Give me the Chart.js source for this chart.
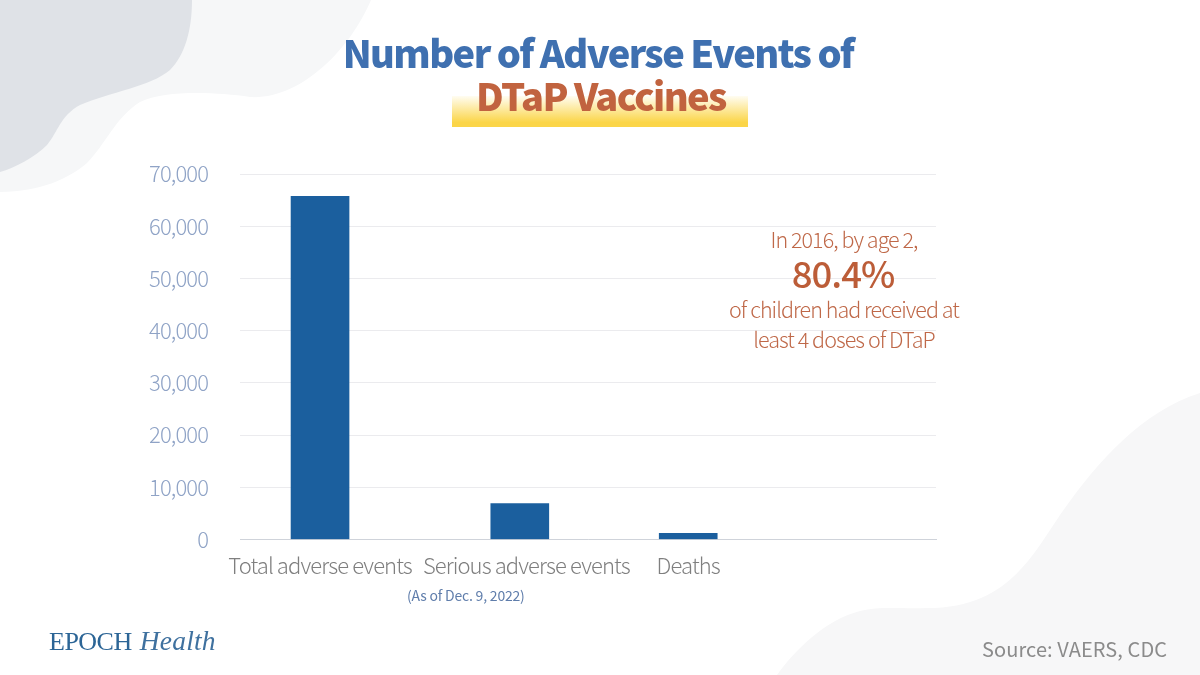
<!DOCTYPE html>
<html>
<head>
<meta charset="utf-8">
<title>Number of Adverse Events of DTaP Vaccines</title>
<script src="https://cdn.jsdelivr.net/npm/chart.js@4/dist/chart.umd.min.js"></script>
<style>
    html, body { margin: 0; padding: 0; background: #fff; }
    #stage { position: relative; width: 1200px; height: 675px; overflow: hidden; background: #fff; font-family: "Noto Sans CJK SC", "Noto Sans", sans-serif; }
    #stage > * { position: absolute; }
    #blobs { left: 0; top: 0; }
    #adverseChart { left: 0; top: 0; }
    .center { text-align: center; white-space: nowrap; }
    #titleTop { left: 0; width: 1196px; top: 25px; font-size: 38px; font-weight: 900; line-height: 54px; letter-spacing: -1.6px; color: #3f70b0; }
    #highlight { left: 452px; top: 96px; width: 296px; height: 31px; background: linear-gradient(#fffdf2, #fbd548 85%, #fbd548); }
    #titleBottom { left: 0; width: 1202px; top: 68px; font-size: 38px; font-weight: 900; line-height: 54px; letter-spacing: -1.6px; color: #c1633f; }
    .note { left: 694px; width: 300px; color: #bf6848; font-size: 21.5px; line-height: 30px; font-weight: 300; letter-spacing: -0.95px; }
    #noteBig { left: 693px; color: #bc5d38; font-size: 36.5px; line-height: 44px; font-weight: 500; letter-spacing: -1px; }
    #asOf { left: 407px; top: 586px; font-size: 14px; line-height: 18px; color: #5f7dab; letter-spacing: -0.2px; white-space: nowrap; }
    #source { left: 982px; top: 634px; font-size: 20px; line-height: 30px; color: #8b8b8b; letter-spacing: 0.1px; white-space: nowrap; }
    #logo { left: 49px; top: 624px; font-size: 26px; line-height: 34px; color: #2c6596; letter-spacing: -0.5px; white-space: nowrap; font-family: "Liberation Serif", serif; }
    #logo i { margin-left: 2px; font-size: 27.5px; letter-spacing: 0.2px; color: #3f719f; }
</style>
</head>
<body>
<div id="stage">
    <svg id="blobs" width="1200" height="675">
        <path fill="#f6f7f8" d="M0 192 C40 192 70 178 87 163 C105 145 115 118 140 102 C165 90 215 92 250 97 C300 100 350 50 371 0 L0 0 Z"/>
        <path fill="#dfe2e7" d="M192 0 C192 30 185 55 170 70 C150 87 110 92 80 105 C60 116 58 132 47 145 C35 157 15 168 0 172 L0 0 Z"/>
        <path fill="#f7f7f8" d="M1200 393 C1140 412 1095 465 1060 515 C1030 560 1005 608 927 608 C900 609 880 606 860 611 C825 620 795 650 777 675 L1200 675 Z"/>
    </svg>
    <canvas id="adverseChart" width="1200" height="675"></canvas>
    <div id="titleTop" class="center">Number of Adverse Events of</div>
    <div id="highlight"></div>
    <div id="titleBottom" class="center">DTaP Vaccines</div>
    <div class="note center" style="top:224px">In 2016, by age 2,</div>
    <div id="noteBig" class="note center" style="top:251px">80.4%</div>
    <div class="note center" style="top:294px">of children had received at</div>
    <div class="note center" style="top:324px">least 4 doses of DTaP</div>
    <div id="asOf">(As of Dec. 9, 2022)</div>
    <div id="logo">EPOCH <i>Health</i></div>
    <div id="source">Source: VAERS, CDC</div>
</div>

<script>
// ===== DATA =====
const categories = ["Total adverse events", "Serious adverse events", "Deaths"];
const adverseEvents = [65700, 6900, 1200];
const yTicks = [0, 10000, 20000, 30000, 40000, 50000, 60000, 70000];

// the original spaces its bars unevenly, so the x scale takes them as fractions of the axis
const slotFractions = [0.115, 0.402, 0.644];
const labelNudge = [0, 6.5, 0];

class SlotScale extends Chart.CategoryScale {
    static id = "slot";
    getPixelForValue(value) {
        return this.getPixelForDecimal(slotFractions[value]);
    }
    getPixelForTick(index) {
        return this.getPixelForValue(this.ticks[index].value) + labelNudge[index];
    }
}
Chart.register(SlotScale);

// tighter text like the original, chart.js has no option for it
// (set here because the canvas resets its context during init)
const tightText = {
    id: "tightText",
    beforeUpdate(chart) {
        chart.ctx.letterSpacing = "-0.9px";
    },
};

// ===== CHART =====
new Chart(document.getElementById("adverseChart"), {
    type: "bar",
    plugins: [tightText],
    data: {
        labels: categories,
        datasets: [{
            data: adverseEvents,
            backgroundColor: "#1b5f9e",
            barThickness: 58,
        }],
    },
    options: {
        responsive: false,
        animation: false,
        layout: { padding: { top: 174, right: 264, bottom: 85.5, left: 0 } },
        plugins: {
            legend: { display: false },
            title: { display: false },
            tooltip: { enabled: false },
        },
        scales: {
            x: {
                type: "slot",
                grid: { display: false },
                border: { color: "#cfd3da", width: 1 },
                ticks: {
                    color: "#7f7f7f",
                    font: { family: "'Noto Sans CJK SC'", size: 22, weight: 300 },
                    padding: 5,
                    maxRotation: 0,
                    autoSkip: false,
                },
                afterFit(scale) { scale.height = 50; },
            },
            y: {
                min: 0,
                max: 70000,
                afterBuildTicks(scale) { scale.ticks = yTicks.map((value) => ({ value })); },
                grid: { color: "#ebebee", lineWidth: 1, drawTicks: false },
                border: { display: false },
                ticks: {
                    color: "#8fa3c6",
                    font: { family: "'Noto Sans CJK SC'", size: 22, weight: 300 },
                    padding: 32,
                    callback: (v) => v.toLocaleString("en-US"),
                },
                afterFit(scale) { scale.width = 240; },
            },
        },
    },
});
</script>
</body>
</html>
